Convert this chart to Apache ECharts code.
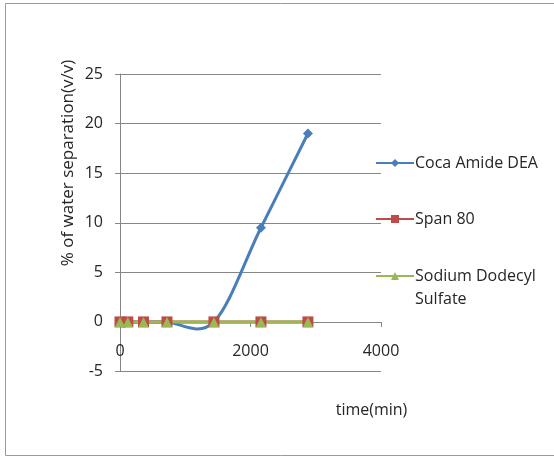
<!DOCTYPE html>
<html>
<head>
<meta charset="utf-8">
<style>
  html, body { margin: 0; padding: 0; background: #fff; }
  #chart { width: 554px; height: 457px; }
</style>
<script src="https://cdn.jsdelivr.net/npm/echarts@6/dist/echarts.min.js"></script>
</head>
<body>
<div id="chart"></div>
<script>
// Sampling times (min) and separated water (% v/v) per surfactant
var times = [0, 120, 360, 720, 1440, 2160, 2880];
var cocaAmideDEA = [0, 0, 0, 0, 0, 9.5, 19];
var span80 = [0, 0, 0, 0, 0, 0, 0];
var sodiumDodecylSulfate = [0, 0, 0, 0, 0, 0, 0];

var seriesNames = ['Coca Amide DEA', 'Span 80', 'Sodium Dodecyl Sulfate'];
var xTicks = [0, 2000, 4000];
var yTicks = [-5, 0, 5, 10, 15, 20, 25];

var FONT = 'Open Sans';
var TEXT = '#262626';
var BLUE = '#4A7EBB', RED = '#BE4B48', GREEN = '#98B954';

function pairs(ys) {
  return times.map(function (t, i) { return [t, ys[i]]; });
}

// Smooth curve through the Coca Amide DEA points: one cubic Bezier per
// segment, control points from the neighbouring points (Catmull-Rom style).
function renderSmoothSegment(params, api) {
  var n = times.length;
  var i = params.dataIndex;
  if (i >= n - 1) return null;
  function pt(k) {
    k = Math.max(0, Math.min(n - 1, k));
    return api.coord([times[k], cocaAmideDEA[k]]);
  }
  var p0 = pt(i - 1), p1 = pt(i), p2 = pt(i + 1), p3 = pt(i + 2);
  return {
    type: 'bezierCurve',
    shape: {
      x1: p1[0], y1: p1[1],
      x2: p2[0], y2: p2[1],
      cpx1: p1[0] + (p2[0] - p0[0]) / 6,
      cpy1: p1[1] + (p2[1] - p0[1]) / 6,
      cpx2: p2[0] - (p3[0] - p1[0]) / 6,
      cpy2: p2[1] - (p3[1] - p1[1]) / 6
    },
    style: { stroke: BLUE, lineWidth: 3, fill: null, lineCap: 'round' }
  };
}

var chart = echarts.init(document.getElementById('chart'));

function legendFor(name, top, label) {
  return {
    data: [name],
    left: 375,
    top: top,
    itemWidth: 38,
    itemHeight: 10,
    itemGap: 0,
    padding: 0,
    lineStyle: { opacity: 1, width: 2 },
    formatter: function () { return label; },
    textStyle: { fontFamily: FONT, fontSize: 16, color: TEXT, padding: [0, 0, 0, -4] }
  };
}

chart.setOption({
  backgroundColor: '#fff',
  animation: false,
  grid: { left: 120, right: 173, top: 74, bottom: 85.5 },
  legend: [
    legendFor(seriesNames[0], 155, 'Coca Amide DEA'),
    legendFor(seriesNames[1], 211, 'Span 80'),
    legendFor(seriesNames[2], 268, 'Sodium Dodecyl')
  ],
  xAxis: {
    type: 'value',
    position: 'bottom',
    min: xTicks[0],
    max: xTicks[xTicks.length - 1],
    interval: xTicks[1] - xTicks[0],
    axisLine: { onZero: false, lineStyle: { color: '#868686', width: 1 } },
    axisTick: { show: true, length: 5, lineStyle: { color: '#868686' } },
    axisLabel: {
      margin: 22, fontFamily: FONT, fontSize: 16, color: TEXT,
      formatter: function (v) { return String(v); }
    },
    splitLine: { show: false }
  },
  yAxis: {
    type: 'value',
    min: yTicks[0],
    max: yTicks[yTicks.length - 1],
    interval: yTicks[1] - yTicks[0],
    axisLine: { show: true, onZero: false, lineStyle: { color: '#868686', width: 1 } },
    axisTick: { show: true, length: 5, lineStyle: { color: '#868686' } },
    axisLabel: { margin: 17, fontFamily: FONT, fontSize: 16, color: TEXT },
    splitLine: { show: true, lineStyle: { color: '#868686', width: 1 } }
  },
  graphic: [
    {
      type: 'rect',
      silent: true,
      z: -10,
      shape: { x: 5.5, y: 3.5, width: 600, height: 452 },
      style: { fill: 'none', stroke: '#9a9a9a', lineWidth: 1 }
    },
    {
      type: 'text',
      x: 68,
      y: 163,
      rotation: Math.PI / 2,
      style: {
        text: '% of water separation(v/v)',
        fontFamily: FONT, fontSize: 17, fill: TEXT,
        align: 'center', verticalAlign: 'middle'
      }
    },
    {
      type: 'text',
      x: 371.5,
      y: 410,
      style: {
        text: 'time(min)', fontFamily: FONT, fontSize: 16, fill: TEXT,
        align: 'center', verticalAlign: 'middle'
      }
    },
    {
      type: 'text',
      x: 415,
      y: 299,
      style: {
        text: 'Sulfate', fontFamily: FONT, fontSize: 16, fill: TEXT,
        verticalAlign: 'middle'
      }
    }
  ],
  series: [
    {
      name: seriesNames[0],
      type: 'line',
      data: pairs(cocaAmideDEA),
      symbol: 'diamond',
      symbolSize: 10,
      color: BLUE,
      lineStyle: { width: 2, color: BLUE, opacity: 0 },
      itemStyle: { color: BLUE }
    },
    {
      name: seriesNames[0],
      type: 'custom',
      data: pairs(cocaAmideDEA),
      z: 1,
      renderItem: renderSmoothSegment
    },
    {
      name: seriesNames[1],
      type: 'line',
      data: pairs(span80),
      symbol: 'rect',
      symbolSize: 11,
      color: RED,
      lineStyle: { width: 3, color: RED },
      itemStyle: { color: RED }
    },
    {
      name: seriesNames[2],
      type: 'line',
      data: pairs(sodiumDodecylSulfate),
      symbol: 'triangle',
      symbolSize: 10,
      color: GREEN,
      lineStyle: { width: 3, color: GREEN },
      itemStyle: { color: GREEN }
    }
  ]
});

// Put the time axis (line, ticks, labels) on the y = 0 line.
var zeroY = chart.convertToPixel({ yAxisIndex: 0 }, 0);
var bottomY = chart.convertToPixel({ yAxisIndex: 0 }, yTicks[0]);
chart.setOption({ xAxis: { offset: zeroY - bottomY } });
</script>
</body>
</html>
